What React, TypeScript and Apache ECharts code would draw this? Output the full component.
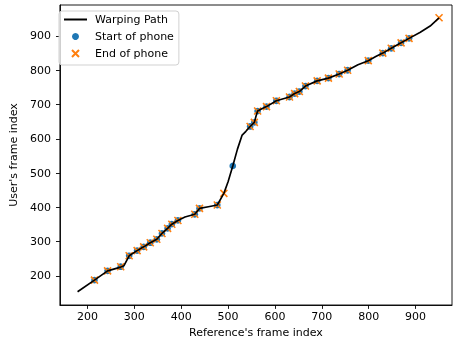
import React, { useEffect, useRef } from "react";
import * as echarts from "echarts";

// Warping path (reference frame index, user frame index)
const pathX = [179, 215, 243, 271, 278, 289, 306, 320, 334, 348, 359, 371, 380, 393, 408, 429, 439, 458, 477, 491, 500, 510, 520, 530, 538, 547, 556, 560, 563, 572, 582, 603, 631, 642, 652, 665, 690, 714, 737, 755, 777, 799, 815, 830, 848, 869, 886, 910, 931, 950];
const pathY = [154, 188, 215, 226, 230, 259, 274, 285, 297, 307, 324, 339, 351, 362, 372, 380, 397, 402, 407, 441, 475, 521, 570, 611, 622, 636, 648, 668, 681, 688, 694, 711, 722, 732, 738, 754, 769, 777, 789, 800, 816, 828, 840, 850, 864, 880, 893, 911, 929, 953];

// Start of phone markers
const startX = [215, 243, 271, 289, 306, 320, 334, 348, 359, 371, 380, 393, 429, 439, 477, 510, 547, 556, 563, 582, 603, 631, 642, 652, 665, 690, 714, 737, 755, 799, 830, 848, 869, 886];
const startY = [188, 215, 227, 259, 274, 285, 297, 307, 324, 339, 351, 362, 380, 397, 407, 521, 636, 648, 681, 694, 711, 722, 732, 738, 754, 769, 777, 789, 800, 828, 850, 864, 880, 893];

// End of phone markers
const endX = [215, 243, 271, 289, 306, 320, 334, 348, 359, 371, 380, 393, 429, 439, 477, 491, 547, 556, 563, 582, 603, 631, 642, 652, 665, 690, 714, 737, 755, 799, 830, 848, 869, 886, 950];
const endY = [188, 215, 227, 259, 274, 285, 297, 307, 324, 339, 351, 362, 380, 397, 407, 441, 636, 648, 681, 694, 711, 722, 732, 738, 754, 769, 777, 789, 800, 828, 850, 864, 880, 893, 953];

const xTicks = [200, 300, 400, 500, 600, 700, 800, 900];
const yTicks = [200, 300, 400, 500, 600, 700, 800, 900];

const FONT = "DejaVu Sans";

export default function App() {
  const ref = useRef<HTMLDivElement>(null);
  useEffect(() => {
    if (!ref.current) return;
    const chart = echarts.init(ref.current, null, { renderer: "svg" });
    const pathData = pathX.map((x, i) => [x, pathY[i]]);
    const startData = startX.map((x, i) => [x, startY[i]]);
    const endData = endX.map((x, i) => [x, endY[i]]);
    const axisCommon = {
      type: "value",
      nameLocation: "middle",
      nameTextStyle: { fontSize: 11, color: "#000", fontFamily: FONT },
      axisLine: { show: true, onZero: false, lineStyle: { color: "#000", width: 0.9 } },
      splitLine: { show: false },
    };
    chart.setOption({
      animation: false,
      textStyle: { fontFamily: FONT },
      grid: {
        left: 53,
        right: 1,
        top: 5,
        bottom: 38,
        show: true,
        borderColor: "#000",
        borderWidth: 0.9,
        backgroundColor: "transparent",
      },
      legend: {
        orient: "vertical",
        left: 59,
        top: 11,
        padding: [3, 5, 6, 4],
        itemGap: 6,
        itemWidth: 23,
        itemHeight: 7,
        backgroundColor: "rgba(255,255,255,0.8)",
        borderColor: "#cccccc",
        borderWidth: 0.9,
        borderRadius: 3,
        textStyle: { fontSize: 11, color: "#000", fontFamily: FONT, padding: [0, 0, 0, 3] },
        data: [
          { name: "Warping Path", itemStyle: { color: "rgba(0,0,0,0)", opacity: 0 } },
          "Start of phone",
          "End of phone",
        ],
      },
      xAxis: {
        ...axisCommon,
        min: 141.3,
        max: 977.6,
        name: "Reference's frame index",
        nameGap: 21,
        axisTick: { show: true, length: 3.9, customValues: xTicks, lineStyle: { color: "#000", width: 0.9 } },
        axisLabel: { customValues: xTicks, fontSize: 11, color: "#000", margin: 6, fontFamily: FONT },
      },
      yAxis: {
        ...axisCommon,
        min: 115.4,
        max: 990.3,
        name: "User's frame index",
        nameGap: 36,
        axisTick: { show: true, length: 3.9, customValues: yTicks, lineStyle: { color: "#000", width: 0.9 } },
        axisLabel: { customValues: yTicks, fontSize: 11, color: "#000", margin: 9, fontFamily: FONT },
      },
      series: [
        {
          name: "Warping Path",
          type: "line",
          data: pathData,
          symbol: "none",
          lineStyle: { color: "#000", width: 1.67 },
          itemStyle: { color: "rgba(0,0,0,0)" },
          silent: true,
        },
        {
          name: "Start of phone",
          type: "scatter",
          data: startData,
          symbol: "circle",
          symbolSize: 6.7,
          itemStyle: { color: "#1f77b4", opacity: 1 },
          silent: true,
        },
        {
          name: "End of phone",
          type: "scatter",
          data: endData,
          symbol: "path://M0,0L10,10M10,0L0,10",
          symbolKeepAspect: true,
          symbolSize: 7,
          itemStyle: { color: "#ff7f0e", borderColor: "#ff7f0e", borderWidth: 1.6, opacity: 1 },
          silent: true,
        },
      ],
    });
    return () => chart.dispose();
  }, []);
  return (
    <div
      ref={ref}
      style={{ position: "fixed", left: 0, top: 0, width: 453, height: 343 }}
    />
  );
}
